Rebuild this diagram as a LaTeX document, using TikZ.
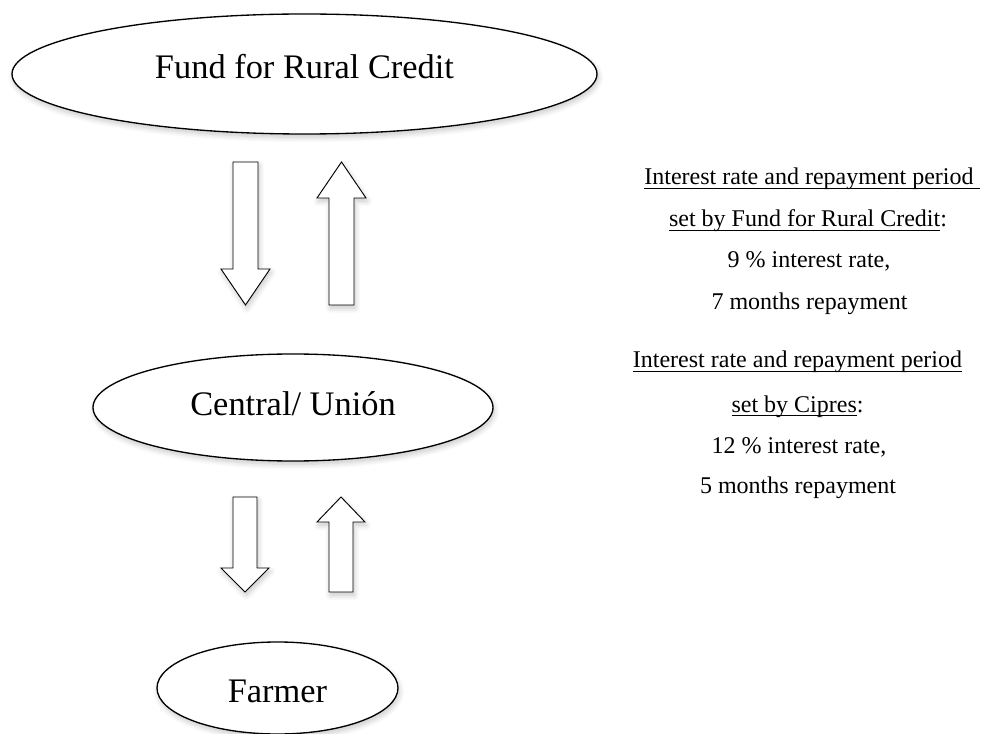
\documentclass[tikz,border=0pt]{standalone}
\usepackage{fontspec}
\setmainfont{LiberationSerif}[Extension=.ttf, UprightFont=*-Regular, BoldFont=*-Bold, ItalicFont=*-Italic, BoldItalicFont=*-BoldItalic]
\usepackage{tikz}
\usetikzlibrary{shapes.geometric,shadows.blur}

\newsavebox{\undlbox}
\newcommand{\undl}[1]{\sbox{\undlbox}{#1}\rlap{\rule[-3.2pt]{\wd\undlbox}{0.8pt}}\usebox{\undlbox}}

\tikzset{
  softshadow/.style={blur shadow={shadow xshift=1pt, shadow yshift=-2.5pt, shadow blur radius=4pt, shadow blur steps=8, shadow opacity=22}},
  inst/.style={ellipse, draw, line width=1pt, fill=white, inner sep=0pt, text depth=0pt, font=\fontsize{25.8}{30}\selectfont, softshadow},
  barrow/.style={draw, line width=0.7pt, fill=white, line join=miter, softshadow},
  info/.style={anchor=base, inner sep=0pt, font=\fontsize{18}{22}\selectfont}
}

\begin{document}
\begin{tikzpicture}[x=0.75pt, y=-0.75pt]
  \useasboundingbox (0,0) rectangle (982,734);

  \node[inst, minimum width=438.75pt, minimum height=90pt, text height=7.5pt] (fund) at (304.5,74) {Fund for Rural Credit};
  \node[inst, minimum width=300pt, minimum height=80.25pt, text height=12.75pt] (central) at (293,407.5) {Central/ Unión};
  \node[inst, minimum width=180.75pt, minimum height=69pt, text height=21pt] (farmer) at (277.5,688) {Farmer};

  \draw[barrow] (233,162) -- (258,162) -- (258,269) -- (270,269) -- (245.5,305) -- (221,269) -- (233,269) -- cycle;
  \draw[barrow] (329,305) -- (354,305) -- (354,198) -- (366,198) -- (341.5,162) -- (317,198) -- (329,198) -- cycle;

  \draw[barrow] (233,497) -- (257,497) -- (257,568) -- (269,568) -- (245,592) -- (221,568) -- (233,568) -- cycle;
  \draw[barrow] (329,592) -- (353,592) -- (353,522) -- (365,522) -- (341,497) -- (317,522) -- (329,522) -- cycle;

  \node[info] (frtitle) at (812,185) {\undl{Interest rate and repayment period\ }};
  \node[info] (frset) at (808,227) {\undl{set by Fund for Rural Credit}:};
  \node[info] (frrate) at (809,268) {9 \% interest rate,};
  \node[info] (frterm) at (809.5,310) {7 months repayment};

  \node[info] (cptitle) at (797.5,368) {\undl{Interest rate and repayment period}};
  \node[info] (cpset) at (797.5,412) {\undl{set by Cipres}:};
  \node[info] (cprate) at (799,453) {12 \% interest rate,};
  \node[info] (cpterm) at (798,493) {5 months repayment};
\end{tikzpicture}
\end{document}
